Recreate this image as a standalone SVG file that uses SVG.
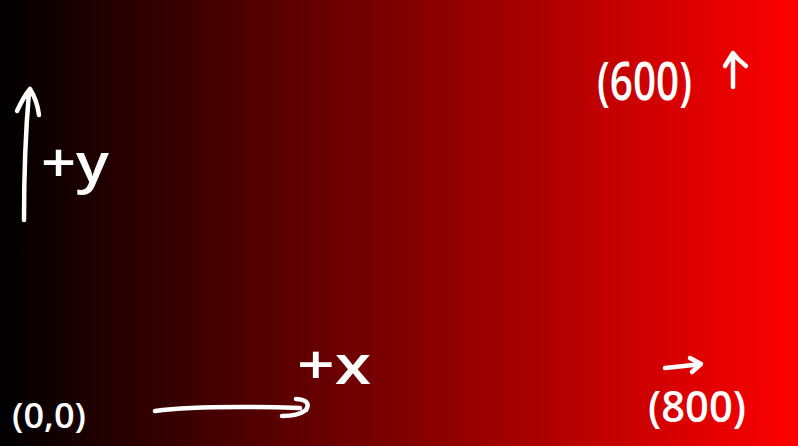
<svg xmlns="http://www.w3.org/2000/svg" width="798" height="446" viewBox="0 0 798 446">
<defs>
<linearGradient id="bg" x1="0" y1="0" x2="1" y2="0">
<stop offset="0" stop-color="#000000"/>
<stop offset="1" stop-color="#ff0000"/>
</linearGradient>
<style>
.ink{fill:none;stroke:#ffffff;stroke-width:4.5;stroke-linecap:round;stroke-linejoin:round}
.t{fill:#ffffff;font-family:"Open Sans","Liberation Sans",sans-serif;font-weight:600}
</style>
</defs>
<rect x="0" y="0" width="798" height="446" fill="url(#bg)"/>
<g id="y-axis">
<path class="ink" d="M24 220 Q24 150 29 92 M17 111 Q24 96 30 89 Q37 100 39 115"/>
<text class="t" x="41" y="182" font-size="54" textLength="68" lengthAdjust="spacingAndGlyphs">+y</text>
</g>
<g id="origin">
<text class="t" x="12" y="428" font-size="34" textLength="74" lengthAdjust="spacingAndGlyphs">(0,0)</text>
</g>
<g id="x-axis">
<path class="ink" d="M155 411 Q200 405 300 408 M296 399 Q312 400 306 410 Q298 416 282 416"/>
<text class="t" x="297" y="384" font-size="54" textLength="74" lengthAdjust="spacingAndGlyphs">+x</text>
</g>
<g id="top-right">
<text class="t" x="597" y="100" font-size="52" textLength="95" lengthAdjust="spacingAndGlyphs">(600)</text>
<path class="ink" d="M733 87 L733 55 M725 66 Q730 58 733 53 Q738 60 746 66"/>
</g>
<g id="bottom-right">
<path class="ink" d="M665 368 Q685 366 701 364 M690 358 L701 364 L692 372"/>
<text class="t" x="648" y="422" font-size="44" textLength="98" lengthAdjust="spacingAndGlyphs">(800)</text>
</g>
</svg>
